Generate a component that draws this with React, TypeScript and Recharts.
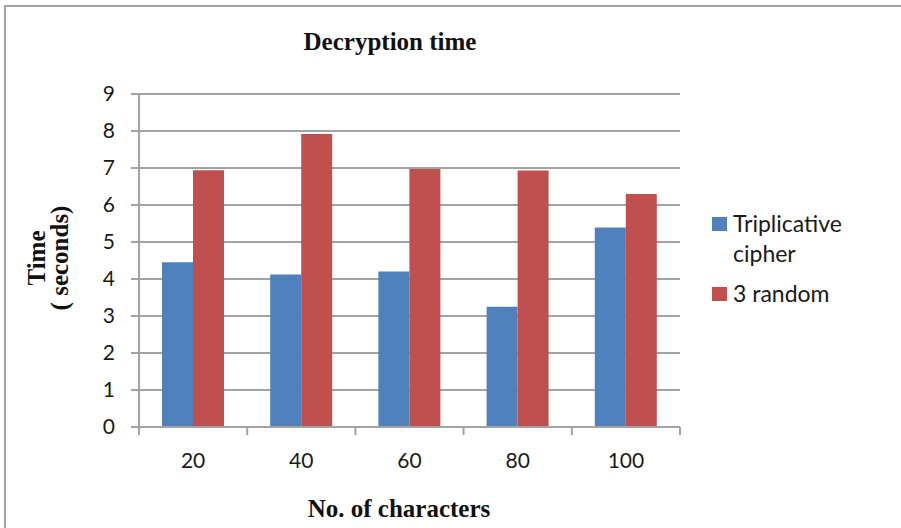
import { BarChart, Bar, XAxis, YAxis, CartesianGrid } from 'recharts';

// values
const categories = ['20', '40', '60', '80', '100'];
const triplicative = [4.45, 4.12, 4.2, 3.25, 5.39];
const random3 = [6.94, 7.92, 6.97, 6.93, 6.3];
const yTicks = [0, 1, 2, 3, 4, 5, 6, 7, 8, 9];
const seriesNames = ['Triplicative cipher', '3 random'];
const seriesColors = ['#4f81bd', '#c0504d'];

const data = categories.map((c, i) => ({
	chars: c,
	triplicative: triplicative[i],
	random3: random3[i],
}));

const W = 901;
const H = 528;
const PLOT_LEFT = 139;
const PLOT_RIGHT = 680;
const GRAY = '#a3a3a3';
const TICK_FONT = 'Lato, "Open Sans", sans-serif';
const SERIF = '"Liberation Serif", "Times New Roman", serif';
const TICK_SIZE = 8;
const X_TICK_MARGIN = 18;

const band = (PLOT_RIGHT - PLOT_LEFT) / categories.length;

// category ticks sit on the band edges, like the office chart
function XTick(props: any) {
	const { x, y, payload, index, visibleTicksCount } = props;
	const axisY = y - TICK_SIZE - X_TICK_MARGIN;
	const isLast = index === visibleTicksCount - 1;
	return (
		<g>
			<line
				x1={x - band / 2}
				x2={x - band / 2}
				y1={axisY}
				y2={axisY + TICK_SIZE}
				stroke={GRAY}
				strokeWidth={2}
			/>
			{isLast && (
				<line
					x1={x + band / 2}
					x2={x + band / 2}
					y1={axisY}
					y2={axisY + TICK_SIZE}
					stroke={GRAY}
					strokeWidth={2}
				/>
			)}
			<text
				x={x}
				y={y}
				dy="0.71em"
				textAnchor="middle"
				fill="#1a1a1a"
				fontSize={21}
				fontFamily={TICK_FONT}
			>
				{payload.value}
			</text>
		</g>
	);
}

function legendLines(name: string) {
	return name.length > 10 ? name.split(' ') : [name];
}

export default function App() {
	let legendY = 217;
	const legendItems = seriesNames.map((name, i) => {
		const lines = legendLines(name);
		const top = legendY;
		legendY += lines.length * 30 + 10;
		return (
			<g key={name}>
				<rect x={712} y={top} width={15} height={14} fill={seriesColors[i]} />
				{lines.map((ln, j) => (
					<text
						key={ln}
						x={733}
						y={top + 15 + j * 30}
						fontSize={23}
						fontFamily={TICK_FONT}
						fill="#1a1a1a"
					>
						{ln}
					</text>
				))}
			</g>
		);
	});

	return (
		<div
			style={{
				position: 'absolute',
				left: 0,
				top: 0,
				width: W,
				height: H,
				background: '#fff',
			}}
		>
			<BarChart
				width={W}
				height={H}
				data={data}
				margin={{ top: 94, right: W - PLOT_RIGHT, bottom: 0, left: 0 }}
				barGap={0}
				barSize={31}
			>
				<CartesianGrid vertical={false} stroke={GRAY} strokeWidth={2} />
				<XAxis
					dataKey="chars"
					height={101}
					axisLine={{ stroke: GRAY, strokeWidth: 2 }}
					tickLine={false}
					tickSize={TICK_SIZE}
					tickMargin={X_TICK_MARGIN}
					tick={<XTick />}
					interval={0}
				/>
				<YAxis
					width={PLOT_LEFT}
					domain={[0, 9]}
					ticks={yTicks}
					interval={0}
					axisLine={{ stroke: GRAY, strokeWidth: 2 }}
					tickLine={{ stroke: GRAY, strokeWidth: 2 }}
					tickSize={TICK_SIZE}
					tickMargin={16}
					tick={{ fill: '#1a1a1a', fontSize: 21, fontFamily: TICK_FONT }}
				/>
				<Bar dataKey="triplicative" name={seriesNames[0]} fill={seriesColors[0]} isAnimationActive={false} />
				<Bar dataKey="random3" name={seriesNames[1]} fill={seriesColors[1]} isAnimationActive={false} />
			</BarChart>
			<svg
				width={W}
				height={H}
				style={{ position: 'absolute', left: 0, top: 0, pointerEvents: 'none' }}
			>
				<line x1={5} x2={5} y1={5} y2={H} stroke={GRAY} strokeWidth={2} />
				<line x1={4} x2={W} y1={6} y2={6} stroke={GRAY} strokeWidth={2} />
				<text x={390} y={50} textAnchor="middle" fontFamily={SERIF} fontWeight="bold" fontSize={25} fill="#111">
					Decryption time
				</text>
				<text x={399} y={517} textAnchor="middle" fontFamily={SERIF} fontWeight="bold" fontSize={25} fill="#111">
					No. of characters
				</text>
				<text
					transform="translate(45,258) rotate(-90)"
					textAnchor="middle"
					fontFamily={SERIF}
					fontWeight="bold"
					fontSize={25}
					fill="#111"
				>
					Time
				</text>
				<text
					transform="translate(68,258) rotate(-90)"
					textAnchor="middle"
					fontFamily={SERIF}
					fontWeight="bold"
					fontSize={25}
					fill="#111"
				>
					( seconds)
				</text>
				{legendItems}
			</svg>
		</div>
	);
}
